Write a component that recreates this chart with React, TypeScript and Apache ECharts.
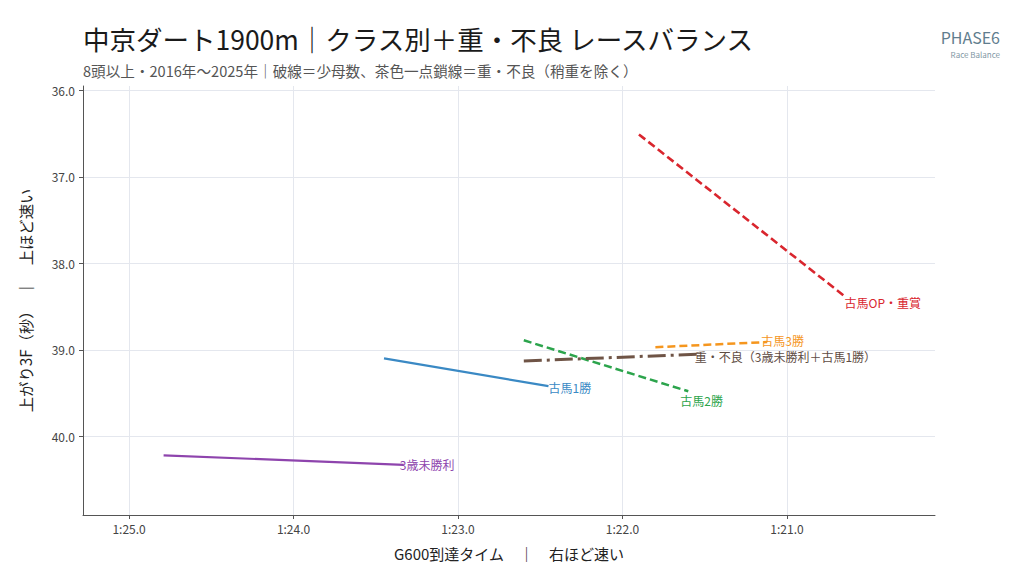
import React, { useEffect, useRef } from "react";
import * as echarts from "echarts";

// ---- data (G600 time in seconds, last 3F in seconds) ----
const xTickValues = [81, 82, 83, 84, 85];
const yTickValues = [36, 37, 38, 39, 40];

const seriesNames = [
  "3歳未勝利",
  "古馬1勝",
  "古馬2勝",
  "古馬3勝",
  "古馬OP・重賞",
  "重・不良（3歳未勝利＋古馬1勝）",
];
const maiden3yo = [
  [84.79, 40.22],
  [83.33, 40.33],
];
const class1win = [
  [83.45, 39.1],
  [82.45, 39.42],
];
const class2win = [
  [82.6, 38.89],
  [81.6, 39.48],
];
const class3win = [
  [81.8, 38.97],
  [81.12, 38.91],
];
const openGraded = [
  [81.9, 36.51],
  [80.65, 38.38],
];
const heavyBad = [
  [82.6, 39.13],
  [81.53, 39.05],
];

// ---- styles ----
const FONT = "'Noto Sans CJK JP', 'Noto Sans', sans-serif";
const colors = ["#8e44ad", "#3a89c4", "#2ca44c", "#f5961e", "#d9262e", "#6f5446"];
const labelColors = ["#8e44ad", "#3a89c4", "#2ca44c", "#f5961e", "#d9262e", "#5e4c43"];
const lineTypes: any[] = ["solid", "solid", [8, 4], [8, 4], [8, 4], [18, 5, 3, 5]];
const lineWidths = [2.2, 2.2, 2.5, 2.5, 2.6, 3];
const labelOffsets = [
  [-4, 0],
  [0, 1],
  [-8, 9],
  [-6, -2],
  [0, 6],
  [-5, 2],
];

function fmtTime(v: number): string {
  const m = Math.floor(v / 60 + 1e-9);
  const s = v - m * 60;
  return `${m}:${s.toFixed(1).padStart(4, "0")}`;
}

export default function App() {
  const ref = useRef<HTMLDivElement>(null);
  useEffect(() => {
    document.body.style.margin = "0";
    if (!ref.current) return;
    const chart = echarts.init(ref.current, undefined, { renderer: "svg" });
    const allData = [maiden3yo, class1win, class2win, class3win, openGraded, heavyBad];
    const series = allData.map((pts, i) => ({
      type: "line",
      name: seriesNames[i],
      symbol: "circle",
      symbolSize: 0.01,
      z: 3,
      lineStyle: { color: colors[i], width: lineWidths[i], type: lineTypes[i], cap: "butt" },
      itemStyle: { color: colors[i] },
      data: pts.map((p, j) => ({
        value: p,
        label:
          j === pts.length - 1
            ? {
                show: true,
                position: "right",
                distance: 0,
                offset: labelOffsets[i],
                formatter: seriesNames[i],
                color: labelColors[i],
                fontSize: 12,
                fontFamily: FONT,
              }
            : { show: false },
      })),
      emphasis: { disabled: true },
    }));

    const option: any = {
      animation: false,
      backgroundColor: "#ffffff",
      grid: { left: 83, right: 89, top: 86, bottom: 60, containLabel: false },
      xAxis: {
        type: "value",
        inverse: true,
        min: 80.1,
        max: 85.28,
        name: "G600到達タイム　｜　右ほど速い",
        nameLocation: "middle",
        nameGap: 31,
        nameTextStyle: { fontSize: 15, color: "#222", fontFamily: FONT },
        axisLine: { show: true, lineStyle: { color: "#555", width: 1 } },
        axisTick: { show: true, customValues: xTickValues, length: 4, lineStyle: { color: "#555" } },
        axisLabel: {
          customValues: xTickValues,
          formatter: (v: number) => fmtTime(v),
          color: "#444",
          fontSize: 12,
          fontFamily: FONT,
          margin: 7,
        },
        splitLine: { show: true, lineStyle: { color: "#e4e7ee", width: 1 } },
      },
      yAxis: {
        type: "value",
        inverse: true,
        min: 35.95,
        max: 40.91,
        name: "上がり3F（秒）　｜　上ほど速い",
        nameLocation: "middle",
        nameRotate: 90,
        nameGap: 50,
        nameTextStyle: { fontSize: 15.3, color: "#222", fontFamily: FONT },
        axisLine: { show: true, lineStyle: { color: "#555", width: 1 } },
        axisTick: { show: true, customValues: yTickValues, length: 4, lineStyle: { color: "#555" } },
        axisLabel: {
          customValues: yTickValues,
          formatter: (v: number) => v.toFixed(1),
          color: "#444",
          fontSize: 12,
          fontFamily: FONT,
          margin: 8,
        },
        splitLine: { show: true, lineStyle: { color: "#e4e7ee", width: 1 } },
      },
      graphic: [
        {
          type: "text",
          x: 83,
          y: 38,
          style: {
            text: "中京ダート1900m｜クラス別＋重・不良 レースバランス",
            fontSize: 26.5,
            fontFamily: FONT,
            fill: "#1a1a1a",
            textAlign: "left",
            textVerticalAlign: "middle",
          },
        },
        {
          type: "text",
          x: 83,
          y: 70,
          style: {
            text: "8頭以上・2016年〜2025年｜破線＝少母数、茶色一点鎖線＝重・不良（稍重を除く）",
            fontSize: 14.6,
            fontFamily: FONT,
            fill: "#555",
            textAlign: "left",
            textVerticalAlign: "middle",
          },
        },
        {
          type: "text",
          x: 1000,
          y: 37,
          style: {
            text: "PHASE6",
            fontSize: 16,
            fontFamily: FONT,
            fill: "#5f7d8e",
            textAlign: "right",
            textVerticalAlign: "middle",
          },
        },
        {
          type: "text",
          x: 1000,
          y: 54,
          style: {
            text: "Race Balance",
            fontSize: 8,
            fontFamily: FONT,
            fill: "#7f97a4",
            textAlign: "right",
            textVerticalAlign: "middle",
          },
        },
      ],
      series,
    };
    chart.setOption(option);
    return () => chart.dispose();
  }, []);
  return <div ref={ref} style={{ width: 1024, height: 575 }} />;
}
